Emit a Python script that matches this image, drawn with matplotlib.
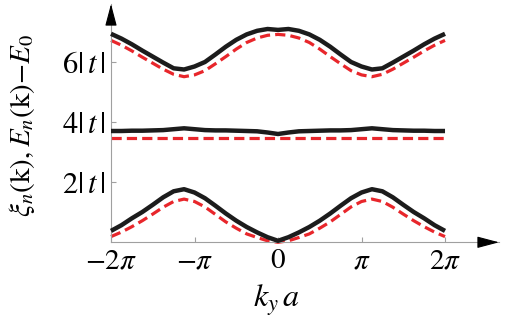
import numpy as np
import matplotlib.pyplot as plt

plt.rcParams['mathtext.fontset'] = 'stix'
plt.rcParams['font.family'] = ['STIXGeneral', 'DejaVu Serif']

# k_y a in units of pi (sample grid -2 .. 2, step 1/8)
k_over_pi = np.linspace(-2, 2, 33)

# upper band
top_xi = [6.95, 6.79, 6.60, 6.39, 6.19, 5.99, 5.80, 5.76, 5.86, 6.01, 6.26, 6.52, 6.75, 6.93, 7.05, 7.11, 7.08,
          7.11, 7.05, 6.93, 6.75, 6.52, 6.26, 6.01, 5.86, 5.76, 5.80, 5.99, 6.19, 6.39, 6.60, 6.79, 6.95]
top_E = [6.73, 6.57, 6.38, 6.17, 5.97, 5.77, 5.60, 5.52, 5.58, 5.72, 5.95, 6.19, 6.44, 6.66, 6.81, 6.90, 6.93,
         6.90, 6.81, 6.66, 6.44, 6.19, 5.95, 5.72, 5.58, 5.52, 5.60, 5.77, 5.97, 6.17, 6.38, 6.57, 6.73]

# middle (flat) band
mid_xi = [3.71, 3.71, 3.72, 3.72, 3.73, 3.74, 3.77, 3.80, 3.77, 3.74, 3.73, 3.73, 3.72, 3.71, 3.70, 3.66, 3.61,
          3.66, 3.70, 3.71, 3.72, 3.73, 3.73, 3.74, 3.77, 3.80, 3.77, 3.74, 3.73, 3.72, 3.72, 3.71, 3.71]
mid_E = [3.47] * 33

# lower band
low_xi = [0.38, 0.57, 0.80, 1.01, 1.25, 1.50, 1.70, 1.77, 1.66, 1.47, 1.22, 0.96, 0.72, 0.51, 0.33, 0.17, 0.05,
          0.17, 0.33, 0.51, 0.72, 0.96, 1.22, 1.47, 1.66, 1.77, 1.70, 1.50, 1.25, 1.01, 0.80, 0.57, 0.38]
low_E = [0.19, 0.34, 0.52, 0.72, 0.94, 1.17, 1.36, 1.44, 1.36, 1.18, 0.93, 0.68, 0.47, 0.28, 0.16, 0.05, 0.0,
         0.05, 0.16, 0.28, 0.47, 0.68, 0.93, 1.18, 1.36, 1.44, 1.36, 1.17, 0.94, 0.72, 0.52, 0.34, 0.19]

xticks = [-2 * np.pi, -np.pi, 0, np.pi, 2 * np.pi]
xtick_labels = [r'$-2\pi$', r'$-\pi$', r'$0$', r'$\pi$', r'$2\pi$']
yticks = [2, 4, 6]
ytick_labels = [r'$2|\,t\,|$', r'$4|\,t\,|$', r'$6|\,t\,|$']

fig = plt.figure(figsize=(5.23, 3.22), dpi=100)
ax = fig.add_axes([111 / 523, 79.7 / 322, 388 / 523, 238.3 / 322])

k = k_over_pi * np.pi
for xi, E in [(top_xi, top_E), (mid_xi, mid_E), (low_xi, low_E)]:
    ax.plot(k, xi, color='#1c1c1c', lw=3.2, solid_capstyle='butt', clip_on=False, zorder=3)
    ax.plot(k, E, color='#e8262b', lw=2.3, linestyle=(0, (3.2, 1.6)), clip_on=False, zorder=2)

ax.set_xlim(-2 * np.pi, -2 * np.pi + 388 / 26.58)
ax.set_ylim(0, 238.3 / 30)

for s in ['top', 'right']:
    ax.spines[s].set_visible(False)
for s in ['left', 'bottom']:
    ax.spines[s].set_color('#a0a0a0')
    ax.spines[s].set_linewidth(0.8)

ax.set_xticks(xticks)
ax.set_xticklabels(xtick_labels, fontsize=21)
ax.set_yticks(yticks)
ax.set_yticklabels(ytick_labels, fontsize=22)
ax.tick_params(direction='in', length=3.5, width=0.8, color='#a0a0a0')
ax.tick_params(axis='x', pad=5)
ax.tick_params(axis='y', pad=4)

# arrow heads on the axes
arr = dict(arrowstyle='-|>,head_length=0.68,head_width=0.18', color='black', lw=0.8,
           shrinkA=0, shrinkB=0, mutation_scale=20)
ax.annotate('', xy=(1, 0), xytext=(0.96, 0), xycoords='axes fraction', arrowprops=arr)
ax.annotate('', xy=(0, 1), xytext=(0, 0.94), xycoords='axes fraction', arrowprops=arr)

fig.text(22 / 523, 1 - 126 / 322, r'$\xi_n(\mathrm{k}),E_n(\mathrm{k}){-}E_0$',
         rotation=90, ha='center', va='center', fontsize=21)
fig.text(276 / 523, 1 - 300 / 322, r'$k_y\,a$', ha='center', va='center', fontsize=23)

fig.savefig('out.png', dpi=100)
